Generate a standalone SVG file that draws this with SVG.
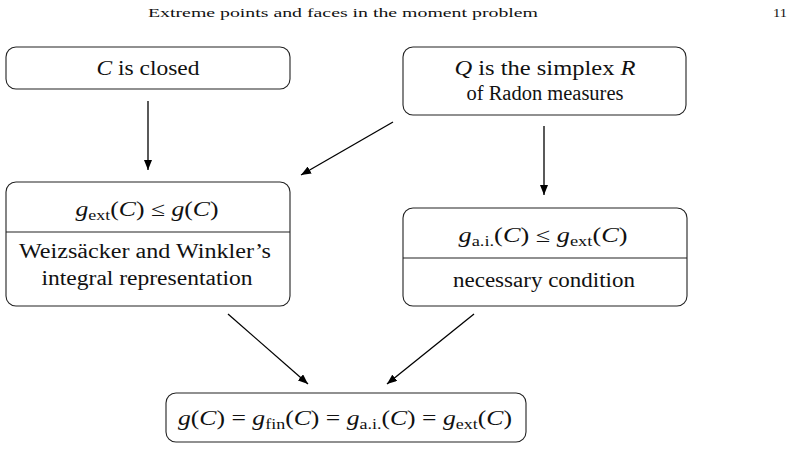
<svg xmlns="http://www.w3.org/2000/svg" width="805" height="450" viewBox="0 0 805 450">
<style>
.box{fill:none;stroke:#222;stroke-width:1.1}
.div{stroke:#222;stroke-width:1.1}
.t{font-family:"Liberation Serif","DejaVu Serif",serif;font-size:20px;fill:#111;text-anchor:middle}
.h{font-family:"Liberation Serif","DejaVu Serif",serif;font-size:13px;fill:#111}
.i{font-style:italic}
.s{font-size:14px}
.c{stroke:#000;stroke-width:1.3;fill:none}
</style>
<defs>
<marker id="ah" viewBox="0 0 10 8" refX="10" refY="4" markerWidth="10" markerHeight="8" markerUnits="userSpaceOnUse" orient="auto">
<path d="M0,0 L10,4 L0,8 Z" fill="#000"/>
</marker>
</defs>
<text class="h" x="148" y="17" textLength="390" lengthAdjust="spacingAndGlyphs">Extreme points and faces in the moment problem</text>
<text class="h" x="773" y="17" textLength="14" lengthAdjust="spacingAndGlyphs">11</text>

<g id="n1">
<rect class="box" x="6" y="47" width="284" height="42" rx="10"/>
<text class="t" x="148" y="75" textLength="103" lengthAdjust="spacingAndGlyphs"><tspan class="i">C</tspan> is closed</text>
</g>
<g id="n2">
<rect class="box" x="403" y="47" width="283" height="68" rx="10"/>
<text class="t" x="545" y="75" textLength="181" lengthAdjust="spacingAndGlyphs"><tspan class="i">Q</tspan> is the simplex <tspan class="i">R</tspan></text>
<text class="t" x="545" y="100" textLength="157" lengthAdjust="spacingAndGlyphs">of Radon measures</text>
</g>
<g id="n3">
<rect class="box" x="6" y="182" width="284" height="124" rx="10"/>
<line class="div" x1="6" y1="232" x2="290" y2="232"/>
<text class="t" x="147" y="216" textLength="143" lengthAdjust="spacingAndGlyphs"><tspan class="i">g</tspan><tspan class="s" dy="4">ext</tspan><tspan dy="-4">(</tspan><tspan class="i">C</tspan>) ≤ <tspan class="i">g</tspan>(<tspan class="i">C</tspan>)</text>
<text class="t" x="145" y="258" textLength="252" lengthAdjust="spacingAndGlyphs">Weizsäcker and Winkler’s</text>
<text class="t" x="147" y="285" textLength="211" lengthAdjust="spacingAndGlyphs">integral representation</text>
</g>
<g id="n4">
<rect class="box" x="403" y="208" width="284" height="98" rx="10"/>
<line class="div" x1="403" y1="258" x2="687" y2="258"/>
<text class="t" x="543" y="242" textLength="169" lengthAdjust="spacingAndGlyphs"><tspan class="i">g</tspan><tspan class="s" dy="4">a.i.</tspan><tspan dy="-4">(</tspan><tspan class="i">C</tspan>) ≤ <tspan class="i">g</tspan><tspan class="s" dy="4">ext</tspan><tspan dy="-4">(</tspan><tspan class="i">C</tspan>)</text>
<text class="t" x="544" y="287" textLength="182" lengthAdjust="spacingAndGlyphs">necessary condition</text>
</g>
<g id="n5">
<rect class="box" x="166" y="393" width="360" height="49" rx="10"/>
<text class="t" x="345" y="425" textLength="334" lengthAdjust="spacingAndGlyphs"><tspan class="i">g</tspan>(<tspan class="i">C</tspan>) = <tspan class="i">g</tspan><tspan class="s" dy="4">fin</tspan><tspan dy="-4">(</tspan><tspan class="i">C</tspan>) = <tspan class="i">g</tspan><tspan class="s" dy="4">a.i.</tspan><tspan dy="-4">(</tspan><tspan class="i">C</tspan>) = <tspan class="i">g</tspan><tspan class="s" dy="4">ext</tspan><tspan dy="-4">(</tspan><tspan class="i">C</tspan>)</text>
</g>

<g id="connectors">
<line class="c" x1="148" y1="101" x2="148" y2="170" marker-end="url(#ah)"/>
<line class="c" x1="393" y1="122" x2="301" y2="175" marker-end="url(#ah)"/>
<line class="c" x1="544" y1="126" x2="544" y2="195" marker-end="url(#ah)"/>
<line class="c" x1="228" y1="314" x2="308" y2="384" marker-end="url(#ah)"/>
<line class="c" x1="474" y1="314" x2="387" y2="384" marker-end="url(#ah)"/>
</g>
</svg>
